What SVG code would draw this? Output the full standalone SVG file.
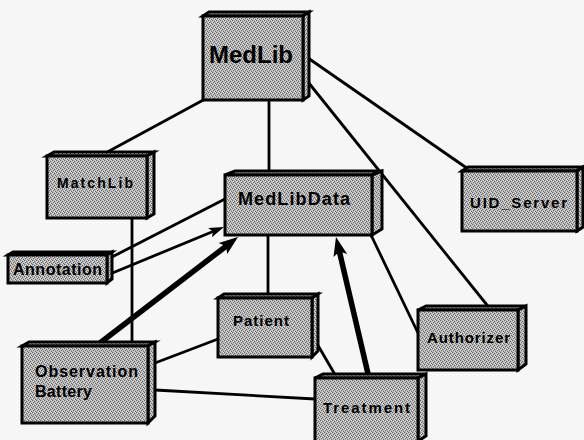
<svg xmlns="http://www.w3.org/2000/svg" width="584" height="440" viewBox="0 0 584 440">
<defs>
<pattern id="dither" width="4" height="4" patternUnits="userSpaceOnUse">
<rect width="4" height="4" fill="#b4b4b4"/>
<rect x="0" y="0" width="1" height="1" fill="#6a6a6a"/>
<rect x="2" y="1" width="1" height="1" fill="#6a6a6a"/>
<rect x="1" y="2" width="1" height="1" fill="#6a6a6a"/>
<rect x="3" y="3" width="1" height="1" fill="#6a6a6a"/>
<rect x="3" y="0" width="1" height="1" fill="#dadada"/>
<rect x="1" y="1" width="1" height="1" fill="#dadada"/>
<rect x="2" y="3" width="1" height="1" fill="#dadada"/>
<rect x="0" y="2" width="1" height="1" fill="#dadada"/>
</pattern>
<marker id="ah" markerUnits="userSpaceOnUse" markerWidth="16" markerHeight="12" refX="7" refY="6" orient="auto" overflow="visible">
<path d="M0,1 L15,6 L0,11 L3,6 z" fill="#000"/>
</marker>
<marker id="ahT" markerUnits="userSpaceOnUse" markerWidth="20" markerHeight="14" refX="8" refY="7" orient="auto" overflow="visible">
<path d="M0,0 L19,7 L0,14 L4,7 z" fill="#000"/>
</marker>
</defs>
<style>
.face{fill:url(#dither);stroke:#000;stroke-width:3;stroke-linejoin:miter}
.lbl{font-family:"Liberation Sans",Arial,sans-serif;font-weight:bold;fill:#000}
.ln{stroke:#000;stroke-width:2.8;fill:none}
.thk{stroke:#000;stroke-width:5.5;fill:none}
</style>
<rect width="584" height="440" fill="#f6f6f6"/>
<g id="connectors">
<line class="ln" x1="207" y1="98" x2="100" y2="156"/>
<line class="ln" x1="269" y1="100" x2="269" y2="175"/>
<line class="ln" x1="308" y1="58" x2="471" y2="171"/>
<line class="ln" x1="308" y1="82" x2="491" y2="310"/>
<line class="ln" x1="132" y1="218" x2="132" y2="346"/>
<line class="ln" x1="110" y1="258" x2="225" y2="199"/>
<line class="ln" x1="110" y1="274" x2="216.6" y2="230" marker-end="url(#ah)"/>
<line class="thk" x1="96" y1="346" x2="229.3" y2="243.7" marker-end="url(#ahT)"/>
<line class="ln" x1="268" y1="235" x2="268" y2="298"/>
<line class="ln" x1="155" y1="363" x2="218" y2="339"/>
<line class="ln" x1="155" y1="390" x2="315" y2="399"/>
<line class="ln" x1="316" y1="342" x2="337" y2="378"/>
<line class="thk" x1="369" y1="378" x2="338.5" y2="247.7" marker-end="url(#ahT)"/>
<line class="ln" x1="371" y1="235" x2="418" y2="333"/>
</g>
<g id="MedLib">
<polygon class="face" points="203,16 209,12 309,12 303,16"/>
<polygon class="face" points="303,16 309,12 309,96 303,100"/>
<rect class="face" x="203" y="16" width="100" height="84"/>
<text class="lbl" x="251" y="63" font-size="24" text-anchor="middle">MedLib</text>
</g>
<g id="MatchLib">
<polygon class="face" points="47,156 54,152 154,152 147,156"/>
<polygon class="face" points="147,156 154,152 154,214 147,218"/>
<rect class="face" x="47" y="156" width="100" height="62"/>
<text class="lbl" x="57" y="188" font-size="14" textLength="76" lengthAdjust="spacing">MatchLib</text>
</g>
<g id="MedLibData">
<polygon class="face" points="225,175 235,171 382,171 372,175"/>
<polygon class="face" points="372,175 382,171 382,229 372,235"/>
<rect class="face" x="225" y="175" width="147" height="60"/>
<text class="lbl" x="238" y="205" font-size="18" textLength="112" lengthAdjust="spacing">MedLibData</text>
</g>
<g id="UID_Server">
<polygon class="face" points="462,171 468,167 583,167 577,171"/>
<polygon class="face" points="577,171 583,167 583,227 577,231"/>
<rect class="face" x="462" y="171" width="115" height="60"/>
<text class="lbl" x="470" y="208" font-size="15" textLength="97" lengthAdjust="spacing">UID_Server</text>
</g>
<g id="Authorizer">
<polygon class="face" points="418,310 426,306 526,306 518,310"/>
<polygon class="face" points="518,310 526,306 526,364 518,370"/>
<rect class="face" x="418" y="310" width="100" height="60"/>
<text class="lbl" x="427" y="343" font-size="15" textLength="83" lengthAdjust="spacing">Authorizer</text>
</g>
<g id="Annotation">
<polygon class="face" points="8,255 13,252 112,252 107,255"/>
<polygon class="face" points="107,255 112,252 112,279 107,283"/>
<rect class="face" x="8" y="255" width="99" height="28"/>
<text class="lbl" x="13" y="275" font-size="16" textLength="89" lengthAdjust="spacing">Annotation</text>
</g>
<g id="Patient">
<polygon class="face" points="218,298 224,294 318,294 312,298"/>
<polygon class="face" points="312,298 318,294 318,351 312,357"/>
<rect class="face" x="218" y="298" width="94" height="59"/>
<text class="lbl" x="233" y="326" font-size="15" textLength="56" lengthAdjust="spacing">Patient</text>
</g>
<g id="ObservationBattery">
<polygon class="face" points="22,346 29,342 155,342 148,346"/>
<polygon class="face" points="148,346 155,342 155,416 148,423"/>
<rect class="face" x="22" y="346" width="126" height="77"/>
<text class="lbl" x="35" y="377" font-size="16" textLength="103" lengthAdjust="spacing">Observation</text>
<text class="lbl" x="35" y="397" font-size="16" textLength="57" lengthAdjust="spacing">Battery</text>
</g>
<g id="Treatment">
<polygon class="face" points="315,378 323,374 426,374 418,378"/>
<polygon class="face" points="418,378 426,374 426,436 418,441"/>
<rect class="face" x="315" y="378" width="103" height="64"/>
<text class="lbl" x="323" y="413" font-size="15" textLength="87" lengthAdjust="spacing">Treatment</text>
</g>
</svg>
